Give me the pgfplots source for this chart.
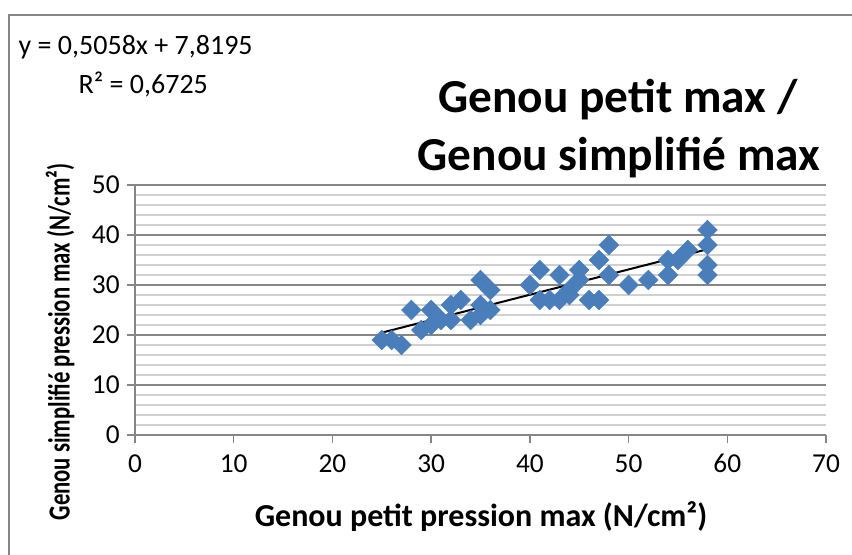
\documentclass[border=0pt]{standalone}
\usepackage{pgfplots}
\pgfplotsset{compat=1.18}
\usepackage{fontspec}
\setmainfont{Carlito}
\definecolor{mkblue}{HTML}{4A7EBB}
\definecolor{majgrid}{HTML}{868686}
\definecolor{mingrid}{HTML}{D0D0D0}
\begin{document}
\begin{tikzpicture}[x=0.75pt,y=0.75pt]
\path[use as bounding box] (0,0) rectangle (852,555);
\draw[majgrid, line width=1.2pt] (9,0) -- (9,540) -- (852,540);
\begin{axis}[
  at={(101.25pt,90pt)}, anchor=south west,
  scale only axis, width=518.25pt, height=187.5pt,
  xmin=0, xmax=70, ymin=0, ymax=50,
  xtick={0,10,...,70}, ytick={0,10,...,50},
  minor ytick={2,4,6,8,12,14,16,18,22,24,26,28,32,34,36,38,42,44,46,48},
  ymajorgrids, yminorgrids,
  major grid style={majgrid, line width=1.1pt},
  minor grid style={mingrid, line width=1.1pt},
  axis x line*=bottom, axis y line*=left,
  axis line style={majgrid, line width=1.1pt, -},
  tick style={majgrid, line width=1.1pt},
  tick align=outside, major tick length=6pt, minor tick length=0pt,
  ticklabel style={font=\fontsize{20.5}{22}\selectfont, black},
  xticklabel style={yshift=-5pt},
  yticklabel style={xshift=-2pt},
  /pgf/number format/assume math mode=true,
  clip=false,
]
\addplot[only marks, mark=square*, mark size=5.2pt,
  mark options={rotate=45, fill=mkblue, draw=mkblue}] coordinates {
(25,19) (26,19) (27,18) (28,25) (29,21) (30,22) (30,25) (31,23)
(32,23) (32,26) (33,27) (34,23) (35,31) (35,26) (35,24) (36,29)
(36,25) (40,30) (41,33) (41,27) (42,27) (43,32) (43,27) (44,28)
(44,29) (45,33) (45,31) (46,27) (47,27) (47,35) (48,38) (48,32)
(50,30) (52,31) (54,32) (54,35) (55,35) (56,37) (58,41) (58,38)
(58,34) (58,32)
};
\addplot[black, line width=1.5pt] coordinates {(25,20.4645) (58,37.1559)};
\end{axis}
\node[anchor=west, font=\fontsize{21}{24}\selectfont] at (14,508) {y = 0,5058x + 7,8195};
\node[anchor=west, font=\fontsize{21}{24}\selectfont] at (74,470) {R² = 0,6725};
\node[font=\fontsize{35.5}{40}\selectfont\bfseries] at (618,455) {Genou petit max /};
\node[font=\fontsize{35.5}{40}\selectfont\bfseries] at (619,397) {Genou simplifié max};
\node[font=\fontsize{24}{28}\selectfont\bfseries] at (481,38) {Genou petit pression max (N/cm²)};
\node[rotate=90, font=\fontsize{23}{26}\selectfont\bfseries] at (60,213) {\scalebox{0.74}[1]{Genou simplifié pression max (N/cm²)}};
\end{tikzpicture}
\end{document}
